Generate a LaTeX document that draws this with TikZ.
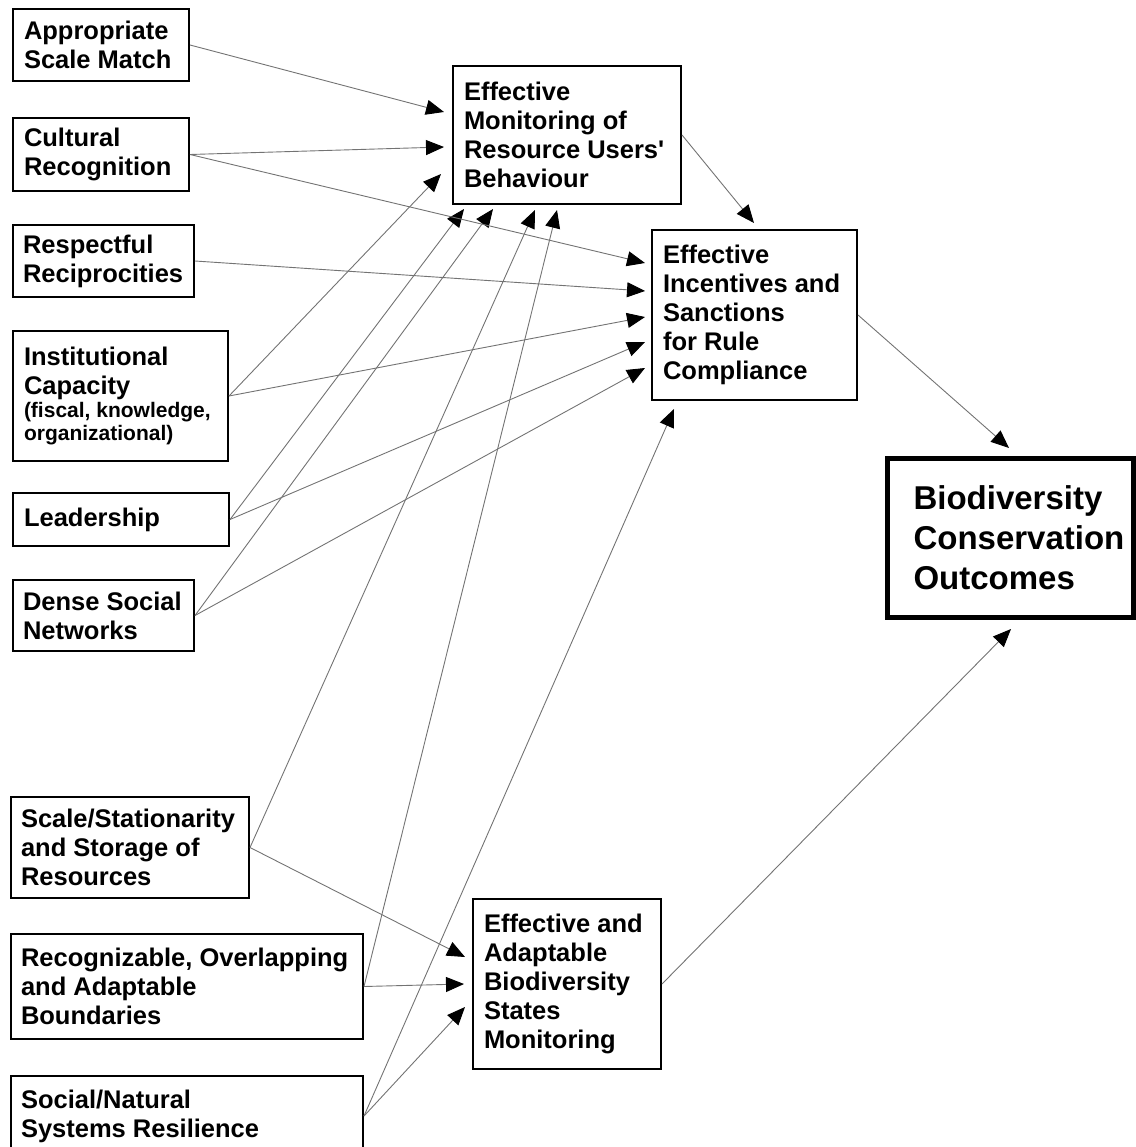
\documentclass[tikz,border=0pt]{standalone}
\usepackage{fontspec}
\setmainfont{Liberation Sans}
\usetikzlibrary{arrows.meta,calc}
\hyphenpenalty=10000
\def\boxline{2pt}
\def\textsize{\fontsize{25.5}{29}\selectfont}
\def\smallsize{\fontsize{21}{23}\selectfont}
\def\bigsize{\fontsize{33}{40}\selectfont}
\def\linkgray{black!55}

\begin{document}
\begin{tikzpicture}[x=1pt,y=-1pt,
    factor/.style={
      draw, line width=\boxline, anchor=north west, align=flush left,
      inner sep=0pt, font=\bfseries\textsize
    },
    link/.style={
      draw=\linkgray, line width=0.9pt,
      -{Triangle[length=18pt,width=15pt,color=black]}
    }
  ]
    \useasboundingbox (0,0) rectangle (1135,1147);

    % left column
    \node[factor, minimum width=176, minimum height=72, text width=154] (asm) at (12,8) {Appropriate\\Scale Match};
    \node[factor, minimum width=176, minimum height=73, text width=154] (cul) at (12,117) {Cultural\\Recognition};
    \node[factor, minimum width=181, minimum height=72, text width=161] (rec) at (12,224) {Respectful\\Reciprocities};
    \node[factor, minimum width=215, minimum height=130, text width=193] (ins) at (12,330)
      {Institutional\\Capacity\par{\smallsize (fiscal, knowledge,\\organizational)\par}};
    \node[factor, minimum width=216, minimum height=53, text width=194] (lead) at (12,492) {Leadership};
    \node[factor, minimum width=181, minimum height=71, text width=161] (dsn) at (12,579) {Dense Social\\Networks};
    \node[factor, minimum width=238, minimum height=101, text width=218] (sss) at (10,796) {Scale/Stationarity\\and Storage of\\Resources};
    \node[factor, minimum width=352, minimum height=105, text width=332] (rob) at (10,933) {Recognizable, Overlapping\\and Adaptable\\Boundaries};
    \node[factor, minimum width=352, minimum height=80, text width=332] (snr) at (10,1075) {Social/Natural\\Systems Resilience};

    % middle column
    \node[factor, minimum width=228, minimum height=138, text width=206] (mon) at (452,65) {Effective\\Monitoring of\\Resource Users\textquotesingle\\Behaviour};
    \node[factor, minimum width=205, minimum height=170, text width=183] (inc) at (651,229) {Effective\\Incentives and\\Sanctions\\for Rule\\Compliance};
    \node[factor, minimum width=188, minimum height=170, text width=166] (eab) at (472,898) {Effective and\\Adaptable\\Biodiversity\\States\\Monitoring};

    % outcome
    \node[factor, line width=5pt, font=\bfseries\bigsize, minimum width=246, minimum height=159, text width=193] (bco) at (884.5,455.5)
      {Biodiversity\\Conservation\\Outcomes};

    \def\links{
      asm/mon.north west/-8/47,
      cul/mon.north west/-8/82,
      ins/mon.north west/-11/109,
      lead/mon.south west/12/4,
      dsn/mon.south west/41/4,
      sss/mon.south west/83/5,
      rob/mon.south west/105/5,
      mon/inc.north west/103/-6,
      cul/inc.north west/-6/34,
      rec/inc.north west/-6/62,
      ins/inc.north west/-6/88,
      lead/inc.north west/-6/113,
      dsn/inc.north west/-6/139,
      snr/inc.south west/23/8,
      sss/eab.north west/-7/59,
      rob/eab.north west/-8/86,
      snr/eab.north west/-7/109,
      inc/bco.north west/124.5/-7.5,
      eab/bco.south west/126.5/9.5
    }

    \foreach \from / \to / \dx / \dy in \links {
      \draw[link] (\from.east) -- ($(\to)+(\dx,\dy)$);
    }
  \end{tikzpicture}
\end{document}
